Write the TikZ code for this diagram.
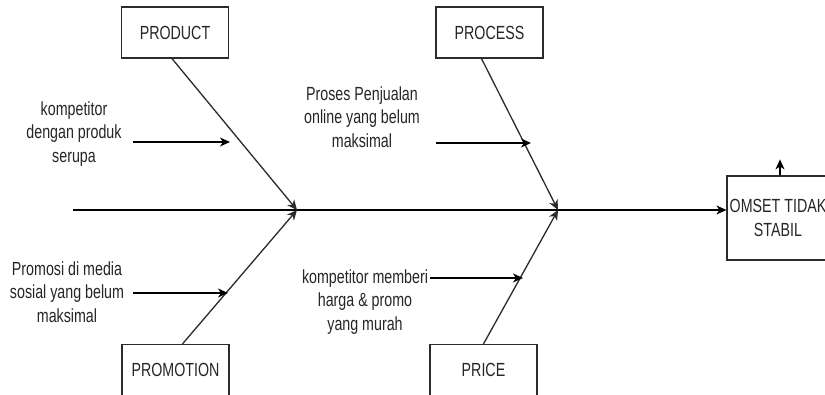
\documentclass[tikz,border=0pt]{standalone}
\usepackage{fontspec}
\setmainfont{Liberation Sans}[FakeStretch=0.75]
\usetikzlibrary{arrows.meta}
\definecolor{ink}{HTML}{2B2B2B}
\definecolor{txt}{HTML}{262626}
\begin{document}
\begin{tikzpicture}[x=1pt,y=-1pt,
  lbl/.style={font=\fontsize{19}{23.5}\selectfont, text=txt, align=center, inner sep=0pt},
  catbox/.style={draw=ink, line width=1.2pt, fill=white, minimum width=107pt, minimum height=51pt, inner sep=0pt, font=\fontsize{19}{23.5}\selectfont, text=txt, align=center},
  bone/.style={draw=ink, line width=1.3pt, -{Stealth[length=10pt,width=9pt,inset=3pt]}},
  cause/.style={draw=black, line width=1.3pt, -{Stealth[length=10pt,width=9pt,inset=3pt]}}]
\useasboundingbox (0,0) rectangle (825,394);
\fill[white] (0,0) rectangle (825,394);
% boxes
\node[catbox] (product) at (175,32.5) {PRODUCT};
\node[catbox] (process) at (489.5,32.5) {PROCESS};
\node[catbox] (promotion) at (175.5,370) {PROMOTION};
\node[catbox] (price) at (483.5,370) {PRICE};
\node[catbox, minimum width=102pt, minimum height=84pt] (omset) at (778,218) {OMSET TIDAK\\STABIL};
% spine
\coordinate (s0) at (73,210);
\coordinate (j1) at (297,210);
\coordinate (j2) at (558,210);
\draw[cause] (s0) -- (omset.west |- s0);
\draw[cause] ([xshift=2pt]omset.north) -- ++(0,-16);
% bones
\draw[bone] ([xshift=-3pt]product.south) -- (j1);
\draw[bone] ([xshift=7pt]promotion.north) -- (j1);
\draw[bone] ([xshift=-8pt]process.south) -- (j2);
\draw[bone] (price.north) -- (j2);
% causes
\node[lbl] (t1) at (74,134) {kompetitor\\dengan produk\\serupa};
\node[lbl] (t2) at (362,117) {Proses Penjualan\\online yang belum\\maksimal};
\node[lbl] (t3) at (67,292) {Promosi di media\\sosial yang belum\\maksimal};
\node[lbl] (t4) at (365,302) {kompetitor memberi\\harga \& promo\\yang murah};
\coordinate (a1s) at (133,142); \coordinate (a1e) at (230,142);
\coordinate (a2s) at (436,143); \coordinate (a2e) at (531,143);
\coordinate (a3s) at (133,293); \coordinate (a3e) at (228,293);
\coordinate (a4s) at (430,278); \coordinate (a4e) at (523,278);
\draw[cause] (a1s) -- (a1e);
\draw[cause] (a2s) -- (a2e);
\draw[cause] (a3s) -- (a3e);
\draw[cause] (a4s) -- (a4e);
\end{tikzpicture}
\end{document}
